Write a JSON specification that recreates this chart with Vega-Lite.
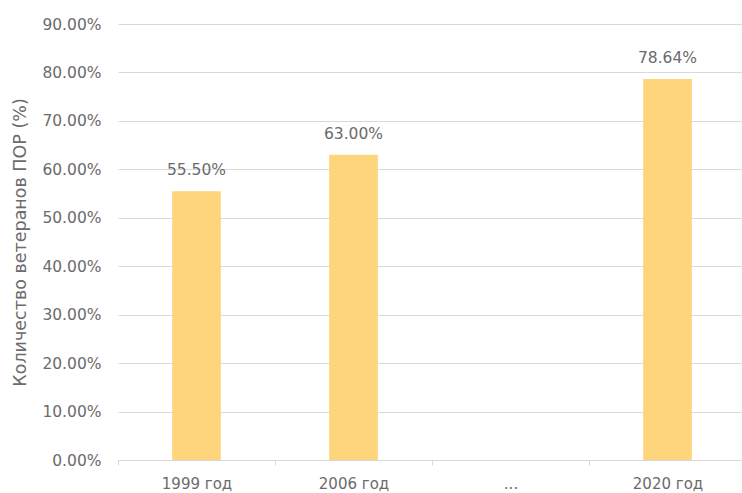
{
  "$schema": "https://vega.github.io/schema/vega-lite/v6.json",
  "width": 628,
  "height": 436,
  "autosize": {"type": "none"},
  "padding": {"left": 118, "top": 24, "right": 0, "bottom": 33},
  "background": "white",
  "data": {
    "values": [
      {"year": "1999 год", "share": 0.555},
      {"year": "2006 год", "share": 0.63},
      {"year": "2020 год", "share": 0.7864}
    ]
  },
  "config": {
    "view": {"stroke": null},
    "font": "DejaVu Sans"
  },
  "encoding": {
    "x": {
      "field": "year",
      "type": "nominal",
      "sort": null,
      "scale": {"domain": ["1999 год", "2006 год", "...", "2020 год"], "paddingInner": 0, "paddingOuter": 0},
      "axis": {
        "title": null,
        "labelAngle": 0,
        "labelFont": "DejaVu Sans",
        "labelFontSize": 15,
        "labelColor": "#6b6b6b",
        "labelPadding": 11,
        "tickBand": "extent",
        "tickSize": 5,
        "tickColor": "#d9d9d9",
        "domainColor": "#d9d9d9",
        "grid": false
      }
    },
    "y": {
      "field": "share",
      "type": "quantitative",
      "scale": {"domain": [0, 0.9], "nice": false},
      "axis": {
        "title": "Количество ветеранов ПОР (%)",
        "titleFont": "DejaVu Sans",
        "titleFontSize": 17.5,
        "titleFontWeight": "normal",
        "titleColor": "#6b6b6b",
        "titlePadding": 12,
        "format": ".2%",
        "values": [0, 0.1, 0.2, 0.3, 0.4, 0.5, 0.6, 0.7, 0.8, 0.9],
        "labelFont": "DejaVu Sans",
        "labelFontSize": 15.5,
        "labelColor": "#6b6b6b",
        "labelPadding": 17,
        "ticks": false,
        "domain": false,
        "grid": true,
        "gridColor": "#d9d9d9"
      }
    }
  },
  "layer": [
    {
      "mark": {"type": "bar", "color": "#FDD57C", "width": {"band": 0.31}}
    },
    {
      "mark": {"type": "text", "baseline": "bottom", "dy": -13, "fontSize": 15.5, "color": "#6b6b6b", "font": "DejaVu Sans"},
      "encoding": {
        "text": {"field": "share", "type": "quantitative", "format": ".2%"}
      }
    }
  ]
}
